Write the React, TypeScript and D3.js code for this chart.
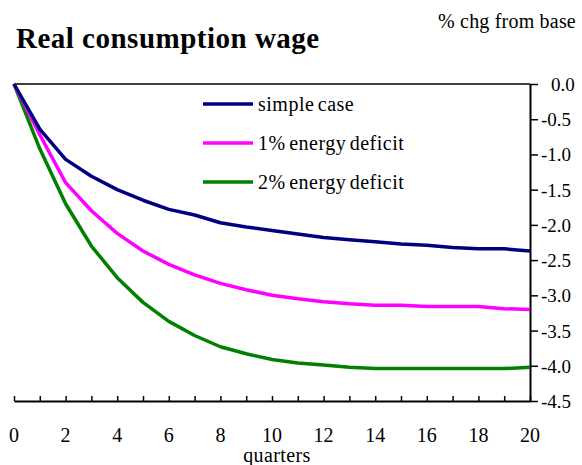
import React, { useRef, useEffect } from "react";
import * as d3 from "d3";

const quarters = d3.range(0, 21);
const simpleCase = [0, -0.64, -1.07, -1.31, -1.5, -1.65, -1.78, -1.86, -1.97, -2.03, -2.08, -2.13, -2.18, -2.21, -2.24, -2.27, -2.29, -2.32, -2.34, -2.34, -2.37];
const deficit1 = [0, -0.72, -1.4, -1.8, -2.12, -2.37, -2.56, -2.71, -2.83, -2.92, -3.0, -3.05, -3.09, -3.12, -3.14, -3.14, -3.16, -3.16, -3.16, -3.19, -3.2];
const deficit2 = [0, -0.92, -1.7, -2.3, -2.75, -3.1, -3.37, -3.57, -3.73, -3.83, -3.91, -3.96, -3.99, -4.02, -4.04, -4.04, -4.04, -4.04, -4.04, -4.04, -4.02];
const yTicks = [0, -0.5, -1.0, -1.5, -2.0, -2.5, -3.0, -3.5, -4.0, -4.5];
const xLabels = d3.range(0, 21, 2);

const series = [
    { name: "simple case", values: simpleCase, color: "#000080" },
    { name: "1% energy deficit", values: deficit1, color: "#ff00ff" },
    { name: "2% energy deficit", values: deficit2, color: "#008000" },
];

export default function App() {
    const svgRef = useRef<SVGSVGElement>(null);

    useEffect(() => {
        if (!svgRef.current) return;
        const svg = d3.select(svgRef.current);
        svg.selectAll("*").remove();

        const font = "Times New Roman, Liberation Serif, DejaVu Serif, serif";
        const x = d3.scaleLinear().domain([0, 20]).range([14, 530]);
        const y = d3.scaleLinear().domain([0, -4.5]).range([84, 401]);

        // title
        svg.append("text")
            .attr("x", 16).attr("y", 48)
            .attr("font-family", font).attr("font-size", 29).attr("font-weight", "bold")
            .attr("letter-spacing", 0.5)
            .text("Real consumption wage");
        svg.append("text")
            .attr("x", 438).attr("y", 28)
            .attr("font-family", font).attr("font-size", 20)
            .attr("letter-spacing", 0.2)
            .text("% chg from base");

        // frame: top line
        svg.append("line")
            .attr("x1", x(0)).attr("x2", x(20))
            .attr("y1", y(0)).attr("y2", y(0))
            .attr("stroke", "#000").attr("stroke-width", 1.5);

        // bottom axis
        const xAxis = svg.append("g")
            .attr("transform", `translate(0,${y(-4.5)})`)
            .call(d3.axisBottom(x).tickValues(quarters).tickSize(-5).tickSizeOuter(0).tickFormat(() => ""));
        xAxis.select(".domain").attr("stroke-width", 2);
        xAxis.selectAll(".tick line").attr("stroke-width", 1.5);

        svg.append("g")
            .selectAll("text")
            .data(xLabels)
            .join("text")
            .attr("x", d => x(d))
            .attr("y", 442)
            .attr("text-anchor", "middle")
            .attr("font-family", font).attr("font-size", 20)
            .text(d => d);

        svg.append("text")
            .attr("x", 277).attr("y", 462)
            .attr("text-anchor", "middle")
            .attr("font-family", font).attr("font-size", 20)
            .attr("letter-spacing", 0.4)
            .text("quarters");

        // right axis
        const yAxis = svg.append("g")
            .attr("transform", `translate(${x(20)},0)`)
            .call(d3.axisRight(y).tickValues(yTicks).tickSize(8).tickSizeOuter(0).tickFormat(() => ""));
        yAxis.select(".domain").attr("stroke-width", 2);
        yAxis.selectAll(".tick line").attr("stroke-width", 1.5);

        svg.append("g")
            .selectAll("text")
            .data(yTicks)
            .join("text")
            .attr("x", d => (d < 0 ? 541 : 551))
            .attr("y", d => y(d) + 7)
            .attr("font-family", font).attr("font-size", 19)
            .text(d => d3.format(".1f")(d).replace("−", "-"));

        // lines
        const line = d3.line<number>()
            .x((_, i) => x(quarters[i]))
            .y(d => y(d));

        series.slice().reverse().forEach(s => {
            svg.append("path")
                .datum(s.values)
                .attr("fill", "none")
                .attr("stroke", s.color)
                .attr("stroke-width", 3.5)
                .attr("stroke-linejoin", "round")
                .attr("d", line);
        });

        // legend
        const legend = svg.append("g").attr("transform", "translate(203,104)");
        series.forEach((s, i) => {
            const row = legend.append("g").attr("transform", `translate(0,${i * 39})`);
            row.append("line")
                .attr("x1", 0).attr("x2", 50)
                .attr("stroke", s.color).attr("stroke-width", 3.5);
            row.append("text")
                .attr("x", 55).attr("y", 7)
                .attr("font-family", font).attr("font-size", 20)
                .attr("letter-spacing", 0.5)
                .attr("word-spacing", -2)
                .text(s.name);
        });
    }, []);

    return (
        <svg
            ref={svgRef}
            width={582}
            height={465}
            style={{ position: "absolute", left: 0, top: 0, background: "#fff" }}
        />
    );
}
